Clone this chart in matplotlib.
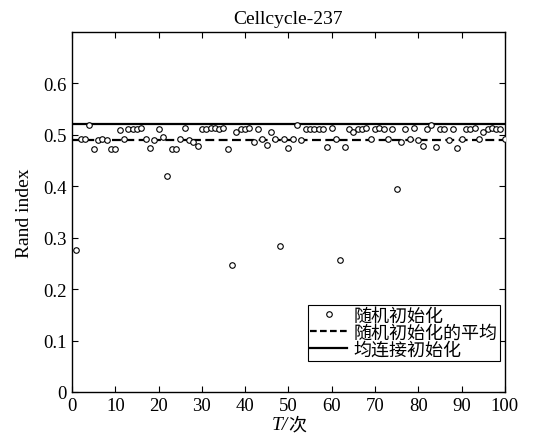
import numpy as np
import matplotlib
matplotlib.use("Agg")
import matplotlib.pyplot as plt
from matplotlib.lines import Line2D

# ---- data ----
runs = list(range(1, 101))
rand_index = [
    0.275, 0.492, 0.492, 0.518, 0.472, 0.490, 0.492, 0.490, 0.472, 0.472,
    0.510, 0.492, 0.512, 0.512, 0.512, 0.513, 0.492, 0.474, 0.490, 0.512,
    0.495, 0.420, 0.472, 0.472, 0.492, 0.513, 0.490, 0.485, 0.478, 0.512,
    0.512, 0.513, 0.513, 0.512, 0.513, 0.472, 0.247, 0.505, 0.512, 0.512,
    0.513, 0.485, 0.512, 0.492, 0.480, 0.506, 0.492, 0.283, 0.492, 0.474,
    0.492, 0.519, 0.490, 0.512, 0.512, 0.512, 0.512, 0.512, 0.476, 0.513,
    0.492, 0.256, 0.476, 0.512, 0.506, 0.512, 0.512, 0.513, 0.492, 0.512,
    0.513, 0.512, 0.492, 0.512, 0.395, 0.486, 0.512, 0.492, 0.513, 0.490,
    0.478, 0.512, 0.519, 0.476, 0.512, 0.512, 0.490, 0.512, 0.474, 0.492,
    0.512, 0.512, 0.513, 0.492, 0.506, 0.512, 0.513, 0.512, 0.512, 0.492,
]
random_mean = 0.490
linkage_init = 0.521

x_ticks = [0, 10, 20, 30, 40, 50, 60, 70, 80, 90, 100]
y_ticks = [0, 0.1, 0.2, 0.3, 0.4, 0.5, 0.6]
y_tick_labels = ["0", "0.1", "0.2", "0.3", "0.4", "0.5", "0.6"]

title = "Cellcycle-237"
ylabel = "Rand index"
legend_labels = ["随机初始化", "随机初始化的平均", "均连接初始化"]

SERIF = "Liberation Serif"
CJK = "Noto Sans CJK SC"
plt.rcParams["font.family"] = [SERIF, CJK]

fig = plt.figure(figsize=(5.39, 4.35), dpi=100)
ax = fig.add_axes([0.1336, 0.0966, 0.803, 0.828])

ax.plot(runs, rand_index, linestyle="none", marker="o", markersize=4.0,
        markerfacecolor="white", markeredgecolor="black", markeredgewidth=0.8,
        zorder=3)
ax.axhline(random_mean, color="black", linestyle=(0, (4, 2)), linewidth=1.6, zorder=2)
ax.axhline(linkage_init, color="black", linestyle="-", linewidth=1.6, zorder=2)

ax.set_xlim(0, 100)
ax.set_ylim(0, 0.7)
ax.set_xticks(x_ticks)
ax.set_xticklabels([str(t) for t in x_ticks], fontsize=13.5)
ax.set_yticks(y_ticks)
ax.set_yticklabels(y_tick_labels, fontsize=13.5)
ax.tick_params(direction="in", top=True, right=True, length=4, width=0.8)
ax.tick_params(axis="x", pad=3.5)
ax.tick_params(axis="y", pad=4)
for s in ax.spines.values():
    s.set_linewidth(1.0)

ax.set_title(title, fontsize=14, pad=6)
ax.set_ylabel(ylabel, fontsize=14, labelpad=7)

# x label: italic "T/" + CJK "次"
ax.text(0.5, -0.09, "T/", transform=ax.transAxes, ha="right", va="center",
        fontsize=14, family=SERIF, style="italic")
ax.text(0.5, -0.09, "次", transform=ax.transAxes, ha="left", va="center",
        fontsize=13, family=[CJK])

handles = [
    Line2D([], [], linestyle="none", marker="o", markersize=4.0,
           markerfacecolor="white", markeredgecolor="black", markeredgewidth=0.8),
    Line2D([], [], color="black", linestyle=(0, (3, 1.5)), linewidth=1.6),
    Line2D([], [], color="black", linestyle="-", linewidth=1.6),
]
leg = ax.legend(handles, legend_labels, loc="lower right",
                bbox_to_anchor=(0.99, 0.085), fancybox=False, framealpha=1,
                edgecolor="black", prop={"family": [SERIF, CJK], "size": 13},
                handlelength=2.0, handletextpad=0.4, borderpad=0.15,
                labelspacing=0.0, borderaxespad=0)
leg.get_frame().set_linewidth(0.8)

fig.savefig("out.png", dpi=100)
